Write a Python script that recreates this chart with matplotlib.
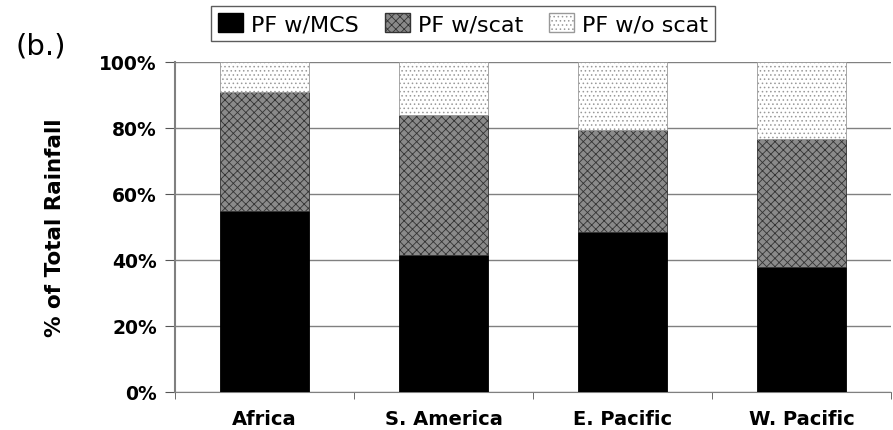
import numpy as np
import matplotlib.pyplot as plt
from matplotlib.patches import Patch

regions = ["Africa", "S. America", "E. Pacific", "W. Pacific"]
pf_mcs = [54.9, 41.5, 48.6, 37.8]
pf_scat = [35.9, 42.4, 30.9, 38.9]
pf_noscat = [9.2, 16.1, 20.5, 23.3]
yticks = [0, 20, 40, 60, 80, 100]

plt.rcParams['font.family'] = ['DejaVu Sans']
plt.rcParams['hatch.linewidth'] = 0.6

fig = plt.figure(figsize=(8.93, 4.31), dpi=100)
# axes box: x 175..891 px, y 63..393 px
ax = fig.add_axes([175 / 893, 38 / 431, 716 / 893, 330 / 431])

x = np.arange(len(regions))
w = 0.5
mcs_col = "black"
scat_col = "#8a8a8a"
noscat_col = "white"

ax.bar(x, pf_mcs, w, color=mcs_col, edgecolor="black", linewidth=0.6, zorder=3)
plt.rcParams['hatch.color'] = '#333333'
ax.bar(x, pf_scat, w, bottom=pf_mcs, color=scat_col, edgecolor="#333333",
       hatch="xxxx", linewidth=0.6, zorder=3)
bot2 = np.array(pf_mcs) + np.array(pf_scat)
ax.bar(x, pf_noscat, w, bottom=bot2, color=noscat_col, edgecolor="#999999",
       hatch="....", linewidth=0.6, zorder=3)

ax.set_xlim(-0.5, 3.5)
ax.set_ylim(0, 100)
ax.set_yticks(yticks)
ax.set_yticklabels([f"{t}%" for t in yticks], fontsize=13.5, fontweight="bold")
ax.set_xticks(x)
ax.set_xticklabels(regions, fontsize=14, fontweight="bold")
ax.tick_params(axis="x", length=0, pad=12)
ax.set_xticks(np.arange(-0.5, 4, 1), minor=True)
ax.tick_params(axis="x", which="minor", length=5, color="#555555")
ax.tick_params(axis="y", length=7, pad=6, color="#555555")
ax.yaxis.grid(True, color="#808080", linewidth=1.0, zorder=0)
ax.set_axisbelow(True)
for s in ["top", "right"]:
    ax.spines[s].set_visible(False)
ax.spines["left"].set_color("#808080")
ax.spines["left"].set_linewidth(1.5)
ax.spines["bottom"].set_color("#808080")

ax.set_ylabel("% of Total Rainfall", fontsize=15.5, fontweight="bold")
ax.yaxis.set_label_coords((65 - 175) / 716, 0.5)

handles = [
    Patch(facecolor=mcs_col, edgecolor="black", label="PF w/MCS"),
    Patch(facecolor=scat_col, edgecolor="#333333", hatch="xxxx", label="PF w/scat"),
    Patch(facecolor=noscat_col, edgecolor="#999999", hatch="....", label="PF w/o scat"),
]
leg = fig.legend(handles=handles, loc="center", bbox_to_anchor=(463 / 893, 1 - 24.5 / 431),
                 ncol=3, fontsize=16, frameon=True, fancybox=False,
                 edgecolor="#333333", handlelength=1.15, handleheight=0.95,
                 handletextpad=0.35, columnspacing=1.15, borderpad=0.3,
                 borderaxespad=0)
leg.get_frame().set_linewidth(1.0)

fig.text(15 / 893, 1 - 46.5 / 431, "(b.)", fontsize=21, va="center", ha="left")

fig.savefig("out.png", dpi=100)
